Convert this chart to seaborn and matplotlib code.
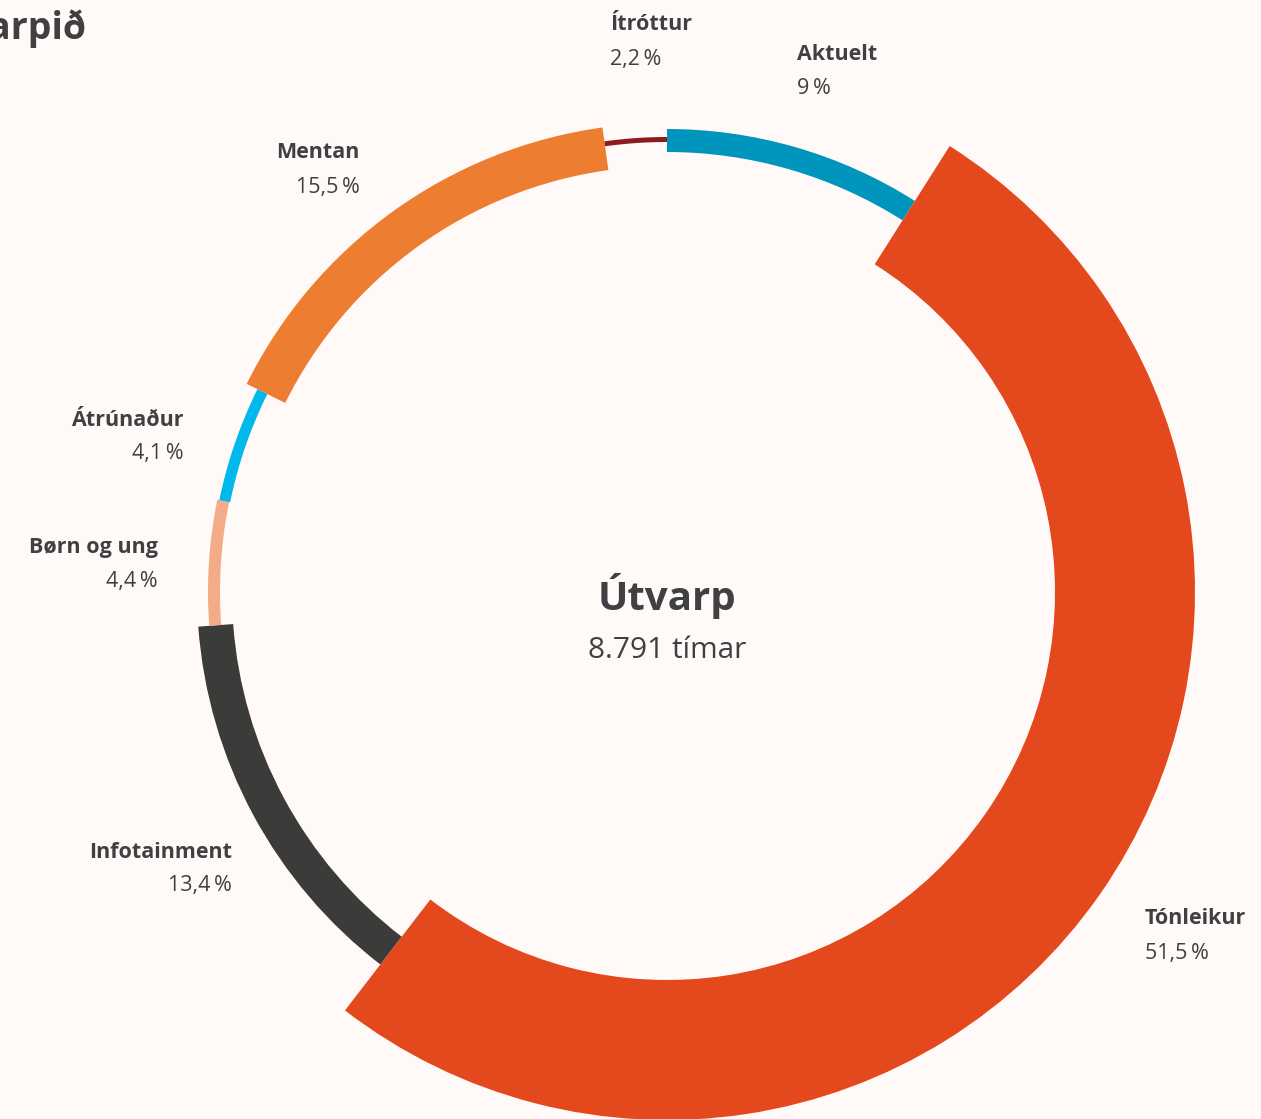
import matplotlib
matplotlib.use('Agg')
import matplotlib.pyplot as plt
from matplotlib.patches import Wedge
import seaborn as sns

# data (clockwise from 12 o'clock)
categories = ['Aktuelt', 'Tónleikur', 'Infotainment', 'Børn og ung', 'Átrúnaður', 'Mentan', 'Ítróttur']
shares = [9.0, 51.5, 13.4, 4.4, 4.1, 15.5, 2.2]
center_title = 'Útvarp'
center_sub = '8.791 tímar'
chart_title = 'Útvarpið'

# style
colors = ['#0095bd', '#e4491d', '#3b3b39', '#f3ab88', '#00b8eb', '#ed7d31', '#8c1c1f']
inner = [440, 388, 435, 447, 446, 426, 450]   # inner radius, px
width = [23, 140, 35, 12, 11, 43, 5]          # ring thickness, px
label_pos = [(797, 54, 'left'), (1145, 919, 'left'), (232, 852, 'right'),
             (158, 547, 'right'), (184, 420, 'right'), (360, 153, 'right'),
             (610, 25, 'left')]

bg = '#fffaf8'
txt = '#403f42'

sns.set_theme(style='white')
plt.rcParams['font.family'] = ['Open Sans', 'DejaVu Sans']

W, H = 1261, 1119
fig = plt.figure(figsize=(W / 100, H / 100), dpi=100, facecolor=bg)
ax = fig.add_axes([0, 0, 1, 1])
ax.set_facecolor(bg)
ax.set_xlim(0, W)
ax.set_ylim(H, 0)
ax.set_aspect('equal')
ax.axis('off')

cx, cy = 667, 592
pal = sns.color_palette(colors)
total = sum(shares)
start = 0.0
for i, v in enumerate(shares):
    end = start + v / total
    # y axis is inverted, so angles go clockwise on screen
    t1 = -90 + 360 * start
    t2 = -90 + 360 * end
    ax.add_patch(Wedge((cx, cy), inner[i] + width[i], t1, t2,
                       width=width[i], facecolor=pal[i], edgecolor='none'))
    start = end

for cat, v, (x, y, ha) in zip(categories, shares, label_pos):
    pct = ('%g' % v).replace('.', ',') + '\u2009%'
    ax.text(x, y, cat, ha=ha, va='center', fontsize=15.5, fontweight='bold', color=txt)
    ax.text(x, y + 34, pct, ha=ha, va='center', fontsize=15.5, color=txt)

ax.text(cx, 596, center_title, ha='center', va='center', fontsize=29, fontweight='bold', color=txt)
ax.text(cx, 650, center_sub, ha='center', va='center', fontsize=21.5, color=txt)

# title is cut by the left edge
ax.text(87, 26, chart_title, ha='right', va='center', fontsize=27, fontweight='bold', color=txt)

fig.savefig('out.png', dpi=100, facecolor=bg)
